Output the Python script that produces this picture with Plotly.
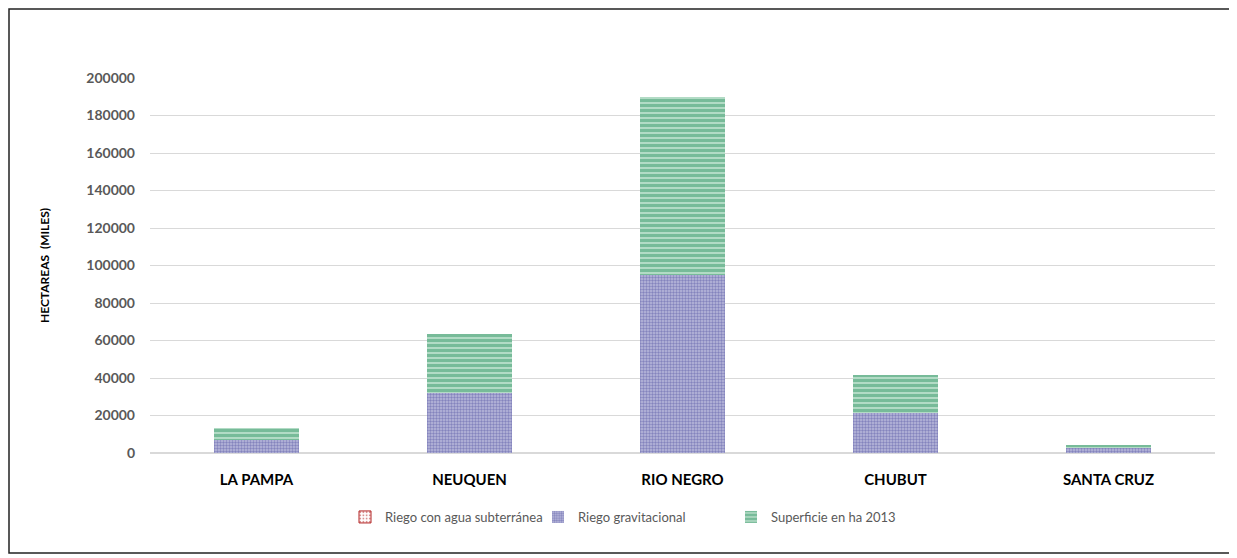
import plotly.graph_objects as go

categories = ["LA PAMPA", "NEUQUEN", "RIO NEGRO", "CHUBUT", "SANTA CRUZ"]
riego_subterranea = [0, 0, 0, 0, 0]
riego_gravitacional = [7000, 32000, 95000, 21300, 2600]
superficie_2013 = [6500, 31500, 95000, 20300, 1800]
y_ticks = [0, 20000, 40000, 60000, 80000, 100000, 120000, 140000, 160000, 180000, 200000]

# page offset of the figure inside the browser (body margin)
OFF = 8
W, H = 1237 - OFF, 558 - OFF
ML, MT = 150 - OFF, 78 - OFF
PW, PH = 1065, 375
MR = W - ML - PW
MB = H - MT - PH

fig = go.Figure()
fig.add_trace(go.Bar(
    name="Riego con agua subterránea", x=categories, y=riego_subterranea,
    marker=dict(color="white", line=dict(color="#b22222", width=1),
                pattern=dict(shape=".", fgcolor="#b22222", bgcolor="white", size=4, solidity=0.3)),
))
fig.add_trace(go.Bar(
    name="Riego gravitacional", x=categories, y=riego_gravitacional,
    marker=dict(color="#a8a8d0", line=dict(width=0),
                pattern=dict(shape=".", fgcolor="#4e4e9e", bgcolor="#babadc", size=3, solidity=0.5)),
))
fig.add_trace(go.Bar(
    name="Superficie en ha 2013", x=categories, y=superficie_2013,
    marker=dict(color="white", line=dict(width=0),
                pattern=dict(shape="-", fgcolor="#007d3f", bgcolor="#eef9f2", size=5, solidity=0.8)),
))

def px(x):
    return (x - ML) / PW

def py(y):
    return (H - MB - y) / PH

fig.add_shape(type="rect", xref="paper", yref="paper",
              x0=px(1), x1=px(W - 5), y0=py(H - 5), y1=py(1),
              line=dict(color="#222222", width=1.5), fillcolor="rgba(0,0,0,0)", layer="below")

fig.update_layout(
    width=W, height=H,
    margin=dict(l=ML, r=MR, t=MT, b=MB),
    barmode="stack", bargap=0.6,
    plot_bgcolor="white", paper_bgcolor="white",
    font=dict(family="Lato, Open Sans, sans-serif", color="#595959"),
    showlegend=True,
    legend=dict(orientation="h", x=px(345 - OFF), xanchor="left", y=py(517 - OFF), yanchor="middle",
                font=dict(size=13, color="#595959"), traceorder="normal",
                itemwidth=30, entrywidthmode="pixels", entrywidth=148),
    xaxis=dict(showgrid=False, showline=False, ticks="", ticklabelstandoff=16,
               tickfont=dict(size=15, color="#000000", weight="bold")),
    yaxis=dict(range=[0, 200000], tickvals=y_ticks, ticktext=[str(v) for v in y_ticks],
               showgrid=True, gridcolor="#d9d9d9", gridwidth=1, zeroline=True,
               zerolinecolor="#d9d9d9", showline=False, ticks="", ticklabelstandoff=14,
               tickfont=dict(size=14, color="#595959", weight="bold"),
               title=dict(text="<b>HECTAREAS  (MILES)</b>", font=dict(size=12, color="#000000"), standoff=34)),
)

fig.write_html("out.html")
